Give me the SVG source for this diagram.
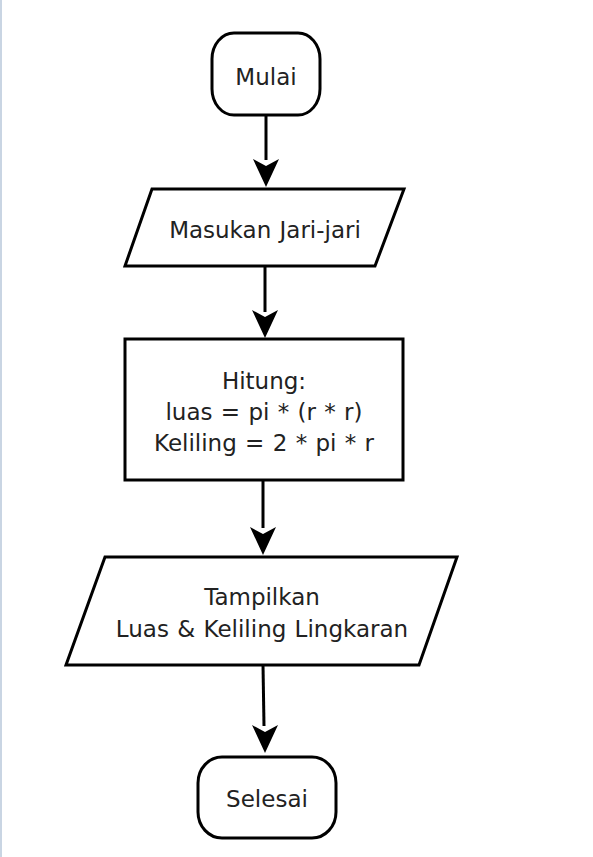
<svg xmlns="http://www.w3.org/2000/svg" width="593" height="857" viewBox="0 0 593 857">
<style>
.shape{fill:#fff;stroke:#000;stroke-width:3;stroke-linejoin:miter}
.t{font-family:"DejaVu Sans",Verdana,sans-serif;font-size:23px;word-spacing:1px;fill:#222;text-anchor:middle}
.conn{stroke:#000;stroke-width:3;fill:none}
.head{fill:#000}
</style>
<rect x="0" y="0" width="2" height="857" fill="#c9d5e3"/>
<g id="connectors">
<line class="conn" x1="266" y1="115" x2="266" y2="160"/>
<path class="head" d="M266,187 L253,159 L266,166 L279,159 Z"/>
<line class="conn" x1="265" y1="266" x2="265" y2="312"/>
<path class="head" d="M265,338 L252,310 L265,317 L278,310 Z"/>
<line class="conn" x1="263" y1="480" x2="263" y2="528"/>
<path class="head" d="M263,555 L250,527 L263,534 L276,527 Z"/>
<line class="conn" x1="263" y1="665" x2="264" y2="726"/>
<path class="head" d="M265,753 L252,725 L265,732 L278,725 Z"/>
</g>
<g id="mulai">
<rect class="shape" x="212" y="33" width="108" height="82" rx="22" ry="26"/>
<text class="t" x="266" y="85">Mulai</text>
</g>
<g id="input">
<polygon class="shape" points="152,189 404,189 375,266 125,266"/>
<text class="t" x="265" y="238">Masukan Jari-jari</text>
</g>
<g id="hitung">
<rect class="shape" x="125" y="339" width="278" height="141"/>
<text class="t" x="264" y="389">Hitung:</text>
<text class="t" x="264" y="420">luas = pi * (r * r)</text>
<text class="t" x="264" y="451">Keliling = 2 * pi * r</text>
</g>
<g id="output">
<polygon class="shape" points="105,557 457,557 419,665 66,665"/>
<text class="t" x="262" y="605">Tampilkan</text>
<text class="t" x="262" y="637">Luas &amp; Keliling Lingkaran</text>
</g>
<g id="selesai">
<rect class="shape" x="198" y="757" width="138" height="81" rx="24" ry="26"/>
<text class="t" x="267" y="807">Selesai</text>
</g>
</svg>
